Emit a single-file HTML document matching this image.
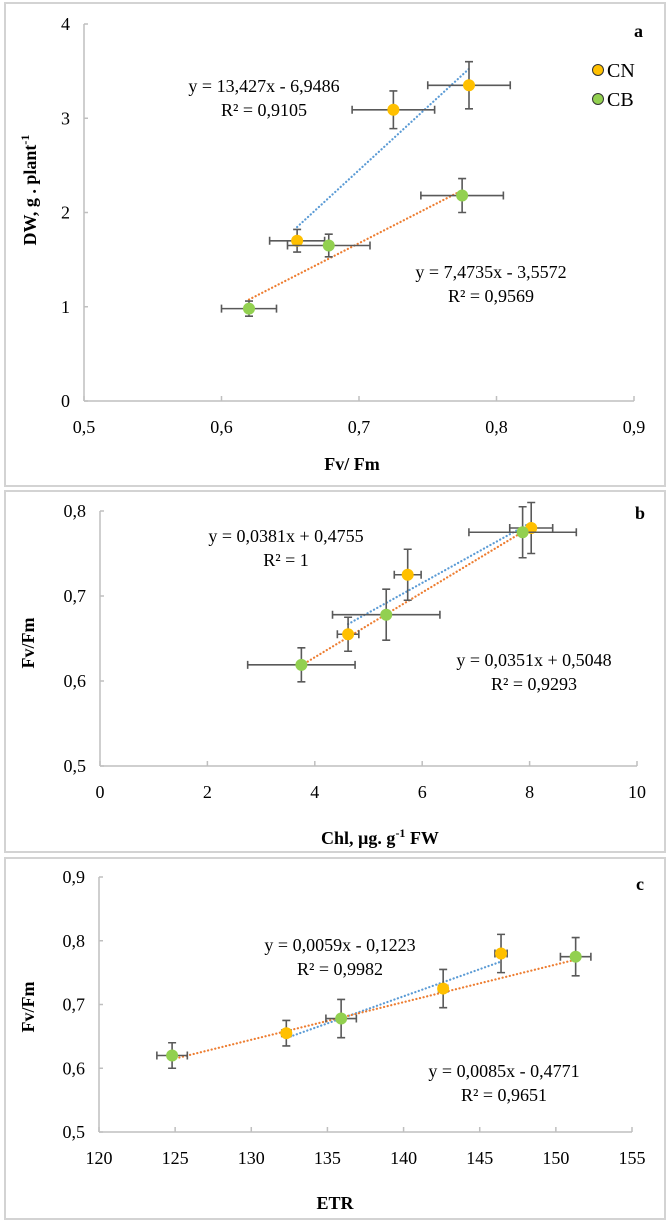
<!DOCTYPE html>
<html><head><meta charset="utf-8">
<style>
html,body{margin:0;padding:0;background:#fff;}
svg{display:block;}
text{font-family:"Liberation Serif",serif;fill:#000;}
</style></head>
<body>
<svg id="chart" width="669" height="1222" viewBox="0 0 669 1222" xmlns="http://www.w3.org/2000/svg">
  <rect x="5" y="3" width="660" height="483" fill="#fff" stroke="#d3d3d3" stroke-width="2"/>
  <rect x="5" y="491" width="660" height="361" fill="#fff" stroke="#d3d3d3" stroke-width="2"/>
  <rect x="5" y="858" width="660" height="361" fill="#fff" stroke="#d3d3d3" stroke-width="2"/>
  <g id="pa"></g>
  <g id="pb"></g>
  <g id="pc"></g>
</svg>
<script>
// ---- Panel a data ----
const aXTicks = [0.5, 0.6, 0.7, 0.8, 0.9];
const aXTickLabels = ["0,5", "0,6", "0,7", "0,8", "0,9"];
const aYTicks = [0, 1, 2, 3, 4];
const aYTickLabels = ["0", "1", "2", "3", "4"];
const aCNx = [0.655, 0.725, 0.780];
const aCNy = [1.70, 3.09, 3.35];
const aCNxErr = [0.02, 0.03, 0.03];
const aCNyErr = [0.12, 0.20, 0.25];
const aCBx = [0.620, 0.678, 0.775];
const aCBy = [0.98, 1.65, 2.18];
const aCBxErr = [0.02, 0.03, 0.03];
const aCByErr = [0.08, 0.12, 0.18];
const aCNfit = [13.427, -6.9486];
const aCBfit = [7.4735, -3.5572];

// ---- Panel b data ----
const bXTicks = [0, 2, 4, 6, 8, 10];
const bXTickLabels = ["0", "2", "4", "6", "8", "10"];
const bYTicks = [0.5, 0.6, 0.7, 0.8];
const bYTickLabels = ["0,5", "0,6", "0,7", "0,8"];
const bCNx = [4.62, 5.73, 8.03];
const bCNy = [0.655, 0.725, 0.780];
const bCNxErr = [0.2, 0.25, 0.4];
const bCNyErr = [0.02, 0.03, 0.03];
const bCBx = [3.75, 5.33, 7.87];
const bCBy = [0.619, 0.678, 0.775];
const bCBxErr = [1.0, 1.0, 1.0];
const bCByErr = [0.02, 0.03, 0.03];
const bCNfit = [0.0351, 0.5048];
const bCBfit = [0.0381, 0.4755];

// ---- Panel c data ----
const cXTicks = [120, 125, 130, 135, 140, 145, 150, 155];
const cXTickLabels = ["120", "125", "130", "135", "140", "145", "150", "155"];
const cYTicks = [0.5, 0.6, 0.7, 0.8, 0.9];
const cYTickLabels = ["0,5", "0,6", "0,7", "0,8", "0,9"];
const cCNx = [132.3, 142.6, 146.4];
const cCNy = [0.655, 0.725, 0.780];
const cCNxErr = [0.3, 0.3, 0.4];
const cCNyErr = [0.02, 0.03, 0.03];
const cCBx = [124.8, 135.9, 151.3];
const cCBy = [0.620, 0.678, 0.775];
const cCBxErr = [1.0, 1.0, 1.0];
const cCByErr = [0.02, 0.03, 0.03];
const cCNfit = [0.0085, -0.4771];
const cCBfit = [0.0059, -0.1223];

const NS = "http://www.w3.org/2000/svg";
function mk(parent, tag, attrs, txt) {
  const e = document.createElementNS(NS, tag);
  for (const k in attrs) e.setAttribute(k, attrs[k]);
  if (txt !== undefined) e.textContent = txt;
  parent.appendChild(e);
  return e;
}

function panel(g, cfg) {
  const sx = v => cfg.L + (v - cfg.x0) / (cfg.x1 - cfg.x0) * (cfg.R - cfg.L);
  const sy = v => cfg.B - (v - cfg.y0) / (cfg.y1 - cfg.y0) * (cfg.B - cfg.T);
  let e;
  e = mk(g, "line", {x1: cfg.L, y1: cfg.T, x2: cfg.L, y2: cfg.B, stroke: "#bfbfbf", "stroke-width": 1.5});
  
  
  e = mk(g, "line", {x1: cfg.L, y1: cfg.B, x2: cfg.R, y2: cfg.B, stroke: "#bfbfbf", "stroke-width": 1.5});
  
  
  cfg.xt.forEach((v, i) => {
    const t = mk(g, "line", {x1: sx(v), y1: cfg.B, x2: sx(v), y2: cfg.B - 5, stroke: "#bfbfbf", "stroke-width": 1.5});
    
    
    const l = mk(g, "text", {x: sx(v), y: cfg.B + 32, "text-anchor": "middle", "font-size": 18}, cfg.xl[i]);
    
    
  });
  cfg.yt.forEach((v, i) => {
    const t = mk(g, "line", {x1: cfg.L, y1: sy(v), x2: cfg.L + 4, y2: sy(v), stroke: "#bfbfbf", "stroke-width": 1.5});
    
    
    const l = mk(g, "text", {x: cfg.L - 14, y: sy(v) + 6, "text-anchor": "end", "font-size": 18}, cfg.yl[i]);
    
    
  });
  [[cfg.cnX, cfg.cnFit, "#5b9bd5", "trendline-cn"], [cfg.cbX, cfg.cbFit, "#ed7d31", "trendline-cb"]].forEach(s => {
    const xs = s[0], f = s[1];
    const xa = Math.min(...xs), xb = Math.max(...xs);
    const ln = mk(g, "line", {x1: sx(xa), y1: sy(f[0] * xa + f[1]), x2: sx(xb), y2: sy(f[0] * xb + f[1]), stroke: s[2], "stroke-width": 2.2, "stroke-dasharray": "0.1 3.6", "stroke-linecap": "round"});
    
    
  });
  [[cfg.cnX, cfg.cnY, cfg.cnXe, cfg.cnYe, "#ffc000", "cn-point"], [cfg.cbX, cfg.cbY, cfg.cbXe, cfg.cbYe, "#92d050", "cb-point"]].forEach(s => {
    s[0].forEach((xv, i) => {
      const yv = s[1][i], cx = sx(xv), cy = sy(yv);
      const x1 = sx(xv - s[2][i]), x2 = sx(xv + s[2][i]);
      const y1 = sy(yv + s[3][i]), y2 = sy(yv - s[3][i]);
      const eb = mk(g, "path", {d: `M${x1},${cy}H${x2}M${x1},${cy-4}V${cy+4}M${x2},${cy-4}V${cy+4}M${cx},${y1}V${y2}M${cx-4},${y1}H${cx+4}M${cx-4},${y2}H${cx+4}`, stroke: "#595959", "stroke-width": 1.6, fill: "none"});
      
      
      const c = mk(g, "circle", {cx: cx, cy: cy, r: 6, fill: s[4]});
      
      
    });
  });
  cfg.texts.forEach(t => {
    const e2 = mk(g, "text", {x: t[0], y: t[1], "text-anchor": t[3] || "middle", "font-size": t[4] || 18, "font-weight": t[5] || "normal"}, t[2]);
    
    
  });
  const yt = mk(g, "text", {x: 0, y: 0, transform: `translate(${cfg.ytx},${cfg.yty}) rotate(-90)`, "text-anchor": "middle", "font-size": 18, "font-weight": "bold"});
  
  
  cfg.ytitle(yt);
  return {sx, sy};
}

panel(document.getElementById("pa"), {
  L: 84, R: 634, T: 24, B: 401, x0: 0.5, x1: 0.9, y0: 0, y1: 4,
  xt: aXTicks, xl: aXTickLabels, yt: aYTicks, yl: aYTickLabels,
  cnX: aCNx, cnY: aCNy, cnXe: aCNxErr, cnYe: aCNyErr, cnFit: aCNfit,
  cbX: aCBx, cbY: aCBy, cbXe: aCBxErr, cbYe: aCByErr, cbFit: aCBfit,
  texts: [
    [264, 92, "y = 13,427x - 6,9486", "middle", 18, "normal", "equation-cn"],
    [264, 116, "R² = 0,9105", "middle", 18, "normal", "r2-cn"],
    [491, 278, "y = 7,4735x - 3,5572", "middle", 18, "normal", "equation-cb"],
    [491, 302, "R² = 0,9569", "middle", 18, "normal", "r2-cb"],
    [352, 470, "Fv/ Fm", "middle", 18, "bold", "x-axis-title"],
    [643, 37, "a", "end", 18, "bold", "panel-label"],
    [607, 77, "CN", "start", 20, "normal", "legend-cn-label"],
    [607, 106, "CB", "start", 20, "normal", "legend-cb-label"]
  ],
  ytx: 36, yty: 190,
  ytitle: el => { el.innerHTML = 'DW, g . plant<tspan dy="-7" font-size="12">-1</tspan>'; }
});
(function(){
  const g = document.getElementById("pa");
  let c = mk(g, "circle", {cx: 598, cy: 70, r: 5.5, fill: "#ffc000", stroke: "#333", "stroke-width": 1});
  
  
  c = mk(g, "circle", {cx: 598, cy: 99, r: 5.5, fill: "#92d050", stroke: "#333", "stroke-width": 1});
  
  
})();

panel(document.getElementById("pb"), {
  L: 100, R: 637, T: 511, B: 766, x0: 0, x1: 10, y0: 0.5, y1: 0.8,
  xt: bXTicks, xl: bXTickLabels, yt: bYTicks, yl: bYTickLabels,
  cnX: bCNx, cnY: bCNy, cnXe: bCNxErr, cnYe: bCNyErr, cnFit: bCNfit,
  cbX: bCBx, cbY: bCBy, cbXe: bCBxErr, cbYe: bCByErr, cbFit: bCBfit,
  texts: [
    [286, 542, "y = 0,0381x + 0,4755", "middle", 18, "normal", "equation-cn"],
    [286, 566, "R² = 1", "middle", 18, "normal", "r2-cn"],
    [534, 666, "y = 0,0351x + 0,5048", "middle", 18, "normal", "equation-cb"],
    [534, 690, "R² = 0,9293", "middle", 18, "normal", "r2-cb"],
    [645, 519, "b", "end", 18, "bold", "panel-label"]
  ],
  ytx: 34, yty: 643,
  ytitle: el => { el.textContent = "Fv/Fm"; }
});
(function(){
  const g = document.getElementById("pb");
  const t = mk(g, "text", {x: 380, y: 844, "text-anchor": "middle", "font-size": 18, "font-weight": "bold"});
  t.innerHTML = 'Chl, µg. g<tspan dy="-7" font-size="12">-1</tspan><tspan dy="7"> FW</tspan>';
  
  
})();

panel(document.getElementById("pc"), {
  L: 99, R: 632, T: 877, B: 1132, x0: 120, x1: 155, y0: 0.5, y1: 0.9,
  xt: cXTicks, xl: cXTickLabels, yt: cYTicks, yl: cYTickLabels,
  cnX: cCNx, cnY: cCNy, cnXe: cCNxErr, cnYe: cCNyErr, cnFit: cCNfit,
  cbX: cCBx, cbY: cCBy, cbXe: cCBxErr, cbYe: cCByErr, cbFit: cCBfit,
  texts: [
    [340, 951, "y = 0,0059x - 0,1223", "middle", 18, "normal", "equation-cn"],
    [340, 975, "R² = 0,9982", "middle", 18, "normal", "r2-cn"],
    [504, 1077, "y = 0,0085x - 0,4771", "middle", 18, "normal", "equation-cb"],
    [504, 1101, "R² = 0,9651", "middle", 18, "normal", "r2-cb"],
    [335, 1209, "ETR", "middle", 18, "bold", "x-axis-title"],
    [644, 890, "c", "end", 18, "bold", "panel-label"]
  ],
  ytx: 34, yty: 1007,
  ytitle: el => { el.textContent = "Fv/Fm"; }
});
</script>
</body></html>
